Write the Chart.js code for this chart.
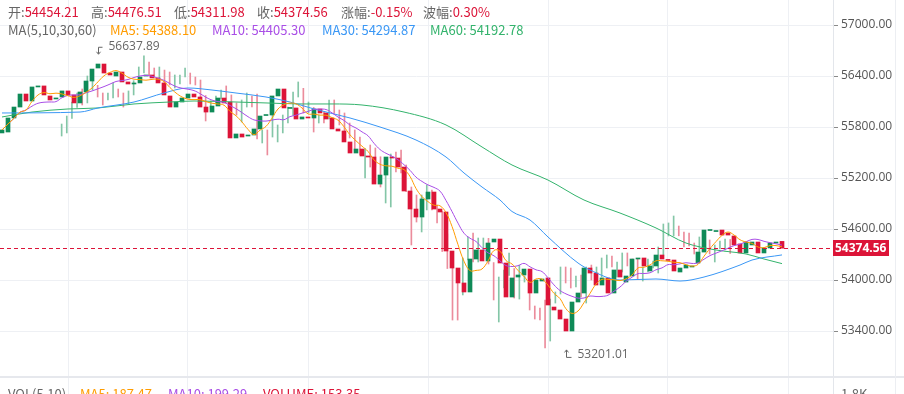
<!DOCTYPE html>
<html>
<head>
<meta charset="utf-8">
<script src="https://cdn.jsdelivr.net/npm/chart.js@4.4.1/dist/chart.umd.min.js"></script>
<style>
  body { margin: 0; background: #fff; overflow: hidden; }
  #wrap { position: relative; width: 904px; height: 394px; overflow: hidden;
          font-family: "Noto Sans CJK SC", "Open Sans", sans-serif; }
  #k { position: absolute; left: 0; top: 0; }
  .txt { position: absolute; font-size: 13px; line-height: 18px; white-space: nowrap; color: #666; }
</style>
</head>
<body>
<div id="wrap">
  <canvas id="k" width="904" height="394"></canvas>
</div>
<script>
// candles (oldest first)
const opens = [55730,55741,55906,56035,56188,56106,56271,56283,56165,56130,56153,56224,56177,56083,56212,56341,56494,56541,56435,56400,
  56447,56330,56306,56318,56400,56412,56377,56318,56165,56035,56094,56141,56188,56153,56035,55976,56047,56141,56094,55671,
  55718,55694,55706,55777,55935,55941,56165,56247,56018,56024,55894,55918,55906,56012,55965,55906,55777,55753,55624,55494,
  55541,55459,55447,55129,55235,55447,55435,55329,55047,54835,54741,54953,55035,54835,54800,54341,54141,53965,53859,54247,
  54353,54224,54447,54482,54200,53800,54035,54059,54129,53847,53988,54024,53682,53647,53541,53400,53741,53847,54141,54082,
  53941,54024,53847,54118,53976,54047,54247,54259,54106,54165,54294,54240,54235,54094,54141,54153,54200,54329,54582,54570,
  54588,54553,54518,54424,54318,54412,54447,54318,54377,54435,54454.21];
const highs = [55835,55929,56094,56200,56247,56400,56341,56290,56200,56200,56318,56247,56200,56224,56345,56506,56637.89,56565,56494,56506,
  56470,56447,56412,56412,56494,56435,56388,56353,56170,56106,56165,56235,56283,56177,56083,56118,56200,56165,56188,55765,
  55765,56000,55824,55941,56035,56212,56330,56255,56094,56030,55941,55976,56118,56118,56000,55965,55847,55765,55682,55547,
  55588,55553,55450,55259,55482,55506,55529,55353,55094,55000,55000,55118,55059,54882,54805,54541,54145,54000,54259,54506,
  54553,54494,54494,54490,54205,54035,54118,54318,54135,54176,54047,54035,53694,53671,53765,53776,53859,54153,54153,54141,
  54047,54059,54153,54176,54153,54259,54294,54282,54212,54318,54318,54247,54247,54153,54247,54224,54388,54659,54671,54753,
  54635,54565,54553,54435,54506,54494,54471,54412,54459,54482,54476.51];
const lows = [55694,55730,55900,56030,56059,56083,56235,56153,56059,56118,56141,56153,56035,56071,56177,56330,56435,56412,56388,56330,
  56294,56294,56259,56306,56388,56306,56294,56083,55871,56012,56083,56130,56106,56000,55941,55859,56035,56035,55660,55612,
  55471,55682,55624,55730,55847,55935,56153,55965,55965,55741,55847,55847,55894,55960,55824,55753,55671,55518,55471,55200,
  55329,55329,55094,54906,54859,55271,55259,55040,54412,54682,54565,54824,54824,54671,54335,54135,53529,53529,53824,54235,
  54212,54212,54353,54188,53765,53506,53906,54053,53788,53776,53976,53647,53541,53529,53201.01,53282,53729,53835,53965,53906,
  53918,53800,53729,54000,53965,54035,54141,54153,54035,54094,54165,54082,54012,53988,54094,54141,54082,54294,54518,54518,
  54520,54388,54400,54306,54306,54388,54306,54212,54365,54353,54311.98];
const closes = [55765,55906,56035,56188,56106,56271,56283,56177,56118,56141,56224,56177,56083,56212,56341,56482,56541,56435,56412,56447,
  56330,56306,56318,56388,56412,56377,56318,56177,56035,56094,56141,56188,56153,56035,55976,56047,56141,56083,55671,55718,
  55682,55706,55777,55929,55941,56165,56247,56024,56030,55894,55918,55906,56012,55965,55894,55777,55753,55624,55494,55541,
  55459,55447,55129,55235,55447,55435,55329,55047,54835,54741,54953,55035,54835,54800,54341,54141,53965,53859,54247,54353,
  54224,54435,54482,54200,53800,54024,54059,54129,53847,54000,54012,53706,53647,53541,53400,53741,53847,54141,54082,53941,
  54024,53847,54118,54035,54047,54247,54259,54165,54165,54294,54247,54230,54106,54141,54176,54165,54329,54588,54594,54582,
  54529,54529,54412,54318,54447,54447,54318,54377,54435,54447,54374.56];

// MA30 / MA60 at a few candles
const ma30Idx = [0,13,16,22,27,31,35,39,44,48,52,58,63,69,74,77,80,83,85,88,91,96,98,103,109,113,117,123,125,130];
const ma30Val = [55965,55976,56024,56094,56200,56259,56235,56200,56153,56094,56012,55906,55800,55647,55447,55259,55094,54941,54806,54706,
  54506,54200,54118,54000,54012,53988,54035,54176,54235,54294.87];
const ma60Idx = [0,5,11,16,22,28,32,39,44,50,55,60,67,74,80,85,91,97,103,109,114,119,124,127,130];
const ma60Val = [55918,55976,56012,56024,56071,56094,56106,56094,56083,56071,56071,56059,55976,55824,55565,55353,55176,54941,54788,54612,
  54435,54353,54306,54247,54192.78];

const yTicks = [53400, 54000, 54600, 55200, 55800, 56400, 57000];
const xGrid = [11, 31, 51, 71, 91, 111, 131];

const RED = '#dc1438', GREEN = '#0f8a57';
const RED_WICK = '#eb8c9c', GREEN_WICK = '#84c6a7';
const C5 = '#ff9c00', C10 = '#a94ee6', C30 = '#3a97f5', C60 = '#33b36c';

const n = closes.length;
const idx = closes.map((_, i) => i);
const up = idx.map(i => closes[i] >= opens[i]);
const lastClose = closes[n - 1];

function movingAvg(len) {
  return idx.map(i => {
    const from = Math.max(0, i - len + 1);
    const part = closes.slice(from, i + 1);
    return { x: i, y: part.reduce((a, b) => a + b, 0) / part.length };
  });
}

// header texts
const wrap = document.getElementById('wrap');
function addText(left, top, parts) {
  const d = document.createElement('div');
  d.className = 'txt';
  d.style.left = left + 'px';
  d.style.top = top + 'px';
  d.innerHTML = parts.map(p => `<span style="color:${p[1]}">${p[0]}</span>`).join('');
  wrap.appendChild(d);
}
const grey = '#666';
addText(8, 3, [['开:', grey], ['54454.21', RED]]);
addText(91, 3, [['高:', grey], ['54476.51', RED]]);
addText(174, 3, [['低:', grey], ['54311.98', RED]]);
addText(257, 3, [['收:', grey], ['54374.56', RED]]);
addText(341, 3, [['涨幅:', grey], ['-0.15%', RED]]);
addText(423, 3, [['波幅:', grey], ['0.30%', RED]]);
addText(8, 21, [['MA(5,10,30,60)', grey]]);
addText(110, 21, [['MA5: 54388.10', C5]]);
addText(212, 21, [['MA10: 54405.30', C10]]);
addText(322, 21, [['MA30: 54294.87', C30]]);
addText(430, 21, [['MA60: 54192.78', C60]]);
addText(8, 385, [['VOL(5,10)', grey]]);
addText(80, 385, [['MA5: 187.47', C5]]);
addText(168, 385, [['MA10: 199.29', C10]]);
addText(263, 385, [['VOLUME: 153.35', RED]]);
addText(841, 385, [['1.8K', grey]]);

const plotW = 833;
const step = 6;
const xMin = -2 / step, xMax = xMin + plotW / step;
const yMax = 57000 + 25 * 600 / 51, yMin = yMax - 394 * 600 / 51;

const extras = {
  id: 'extras',
  afterDatasetsDraw(chart) {
    const { ctx, chartArea, scales } = chart;
    const x = scales.x, y = scales.y;
    ctx.save();
    // last price line
    const py = Math.round(y.getPixelForValue(lastClose)) + 0.5;
    ctx.strokeStyle = RED;
    ctx.lineWidth = 1;
    ctx.setLineDash([4, 3]);
    ctx.beginPath();
    ctx.moveTo(chartArea.left, py);
    ctx.lineTo(chartArea.right, py);
    ctx.stroke();
    ctx.setLineDash([]);

    // max / min markers
    let hi = 0, lo = 0;
    highs.forEach((v, i) => { if (v > highs[hi]) hi = i; });
    lows.forEach((v, i) => { if (v < lows[lo]) lo = i; });
    ctx.strokeStyle = '#666';
    ctx.fillStyle = '#666';
    ctx.font = '12px "Open Sans", sans-serif';
    ctx.textBaseline = 'middle';
    ctx.textAlign = 'left';

    let hx = Math.round(x.getPixelForValue(hi)) + 0.5, hy = y.getPixelForValue(highs[hi]);
    ctx.beginPath();
    ctx.moveTo(hx + 4, hy - 8.5);
    ctx.lineTo(hx, hy - 8.5);
    ctx.lineTo(hx, hy - 2);
    ctx.stroke();
    ctx.beginPath();
    ctx.moveTo(hx - 2, hy - 4); ctx.lineTo(hx, hy - 1.5); ctx.lineTo(hx + 2, hy - 4);
    ctx.stroke();
    ctx.fillText(highs[hi].toFixed(2), hx + 10, hy - 9);

    let lx = Math.round(x.getPixelForValue(lo)) + 0.5, ly = y.getPixelForValue(lows[lo]);
    ctx.beginPath();
    ctx.moveTo(lx, ly + 2);
    ctx.lineTo(lx, ly + 9.5);
    ctx.lineTo(lx + 5, ly + 9.5);
    ctx.stroke();
    ctx.beginPath();
    ctx.moveTo(lx - 2, ly + 4.5); ctx.lineTo(lx, ly + 2); ctx.lineTo(lx + 2, ly + 4.5);
    ctx.stroke();
    ctx.fillText(lows[lo].toFixed(2), lx + 11, ly + 7);
    ctx.restore();
  },
  afterDraw(chart) {
    const { ctx, chartArea, scales } = chart;
    const y = scales.y;
    ctx.save();
    // pane separator and right edge
    ctx.fillStyle = '#e6e8ed';
    ctx.fillRect(0, 376, chart.width, 2);
    ctx.fillStyle = '#eceef2';
    ctx.fillRect(895, 0, 1, chart.height);
    // last price tag
    const py = Math.round(y.getPixelForValue(lastClose));
    ctx.fillStyle = RED;
    ctx.fillRect(chartArea.right, py - 8, 56, 16);
    ctx.fillStyle = '#fff';
    ctx.font = 'bold 12px "Open Sans", sans-serif';
    ctx.textBaseline = 'middle';
    ctx.textAlign = 'left';
    ctx.fillText(lastClose.toFixed(2), chartArea.right + 2, py + 0.5);
    ctx.restore();
  }
};

new Chart(document.getElementById('k'), {
  type: 'bar',
  data: {
    datasets: [
      { type: 'line', label: 'MA5', data: movingAvg(5), borderColor: C5, borderWidth: 1,
        pointRadius: 0, tension: 0.4, order: 0 },
      { type: 'line', label: 'MA10', data: movingAvg(10), borderColor: C10, borderWidth: 1,
        pointRadius: 0, tension: 0.4, order: 0 },
      { type: 'line', label: 'MA30', data: ma30Idx.map((v, i) => ({ x: v, y: ma30Val[i] })), borderColor: C30,
        borderWidth: 1, pointRadius: 0, cubicInterpolationMode: 'monotone', order: 0 },
      { type: 'line', label: 'MA60', data: ma60Idx.map((v, i) => ({ x: v, y: ma60Val[i] })), borderColor: C60,
        borderWidth: 1, pointRadius: 0, cubicInterpolationMode: 'monotone', order: 0 },
      { label: 'body', data: idx.map(i => ({ x: i, y: [opens[i], closes[i]] })),
        backgroundColor: up.map(u => u ? GREEN : RED), barThickness: 4, minBarLength: 1,
        grouped: false, order: 1 },
      { label: 'wick', xAxisID: 'xw', data: idx.map(i => ({ x: i, y: [lows[i], highs[i]] })),
        backgroundColor: up.map(u => u ? GREEN_WICK : RED_WICK), barThickness: 1,
        grouped: false, order: 2 }
    ]
  },
  options: {
    responsive: false,
    animation: false,
    devicePixelRatio: 1,
    layout: { padding: 0 },
    plugins: { legend: { display: false }, tooltip: { enabled: false } },
    scales: {
      x: {
        type: 'linear', min: xMin, max: xMax, offset: false,
        afterBuildTicks: s => { s.ticks = xGrid.map(v => ({ value: v })); },
        afterFit: s => { s.height = 0; s.paddingLeft = 0; s.paddingRight = 0; },
        ticks: { display: false },
        grid: { color: '#eef0f4', drawTicks: false, offset: false },
        border: { display: false }
      },
      xw: {
        type: 'linear', display: false, min: xMin - 0.5 / step, max: xMax - 0.5 / step
      },
      y: {
        position: 'right', min: yMin, max: yMax,
        afterBuildTicks: s => { s.ticks = yTicks.map(v => ({ value: v })); },
        afterFit: s => { s.width = 904 - plotW; s.paddingTop = 0; s.paddingBottom = 0; },
        grid: { color: '#eef0f4', tickColor: '#8a8a8a', tickLength: 5 },
        border: { color: '#e3e6eb' },
        ticks: { color: '#555', padding: 3, font: { size: 12, family: '"Open Sans", sans-serif' },
                 callback: v => v.toFixed(2) }
      }
    }
  },
  plugins: [extras]
});
</script>
</body>
</html>
